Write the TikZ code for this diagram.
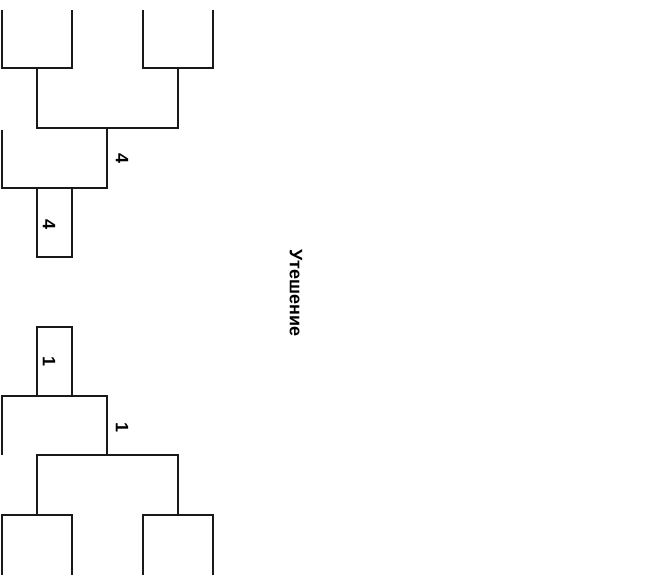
\documentclass[tikz,border=0pt]{standalone}
\usepackage{fontspec}
\setmainfont{Liberation Sans}
\begin{document}
\begin{tikzpicture}[x=1pt,y=-1pt,
  line/.style={line width=2pt, line join=miter, draw=black!90},
  lbl/.style={font=\bfseries\fontsize{18}{18}\selectfont, rotate=-90, inner sep=0pt},
  ttl/.style={font=\bfseries\fontsize{18}{18}\selectfont, rotate=-90, inner sep=0pt}]
\useasboundingbox[fill=white] (0,0) rectangle (667,578);
% top half
\draw[line] (2,10) -- (2,68) -- (72,68) -- (72,10);
\draw[line] (143,10) -- (143,68) -- (213,68) -- (213,10);
\draw[line] (37,68) -- (37,128) -- (178,128) -- (178,68);
\draw[line] (2,130) -- (2,188) -- (107,188) -- (107,128);
\draw[line] (37,188) -- (37,257) -- (72,257) -- (72,188);
\node[lbl] (s4a) at (122,159) {4};
\node[lbl] (s4b) at (49,225) {4};
% bottom half
\draw[line] (37,396) -- (37,327) -- (72,327) -- (72,396);
\draw[line] (2,455) -- (2,396) -- (107,396) -- (107,455);
\draw[line] (37,515) -- (37,455) -- (178,455) -- (178,515);
\draw[line] (2,575) -- (2,515) -- (72,515) -- (72,575);
\draw[line] (143,575) -- (143,515) -- (213,515) -- (213,575);
\node[lbl] (s1a) at (49,362) {1};
\node[lbl] (s1b) at (122,428) {1};
% title
\node[ttl] (title) at (296,293) {Утешение};
\end{tikzpicture}
\end{document}
